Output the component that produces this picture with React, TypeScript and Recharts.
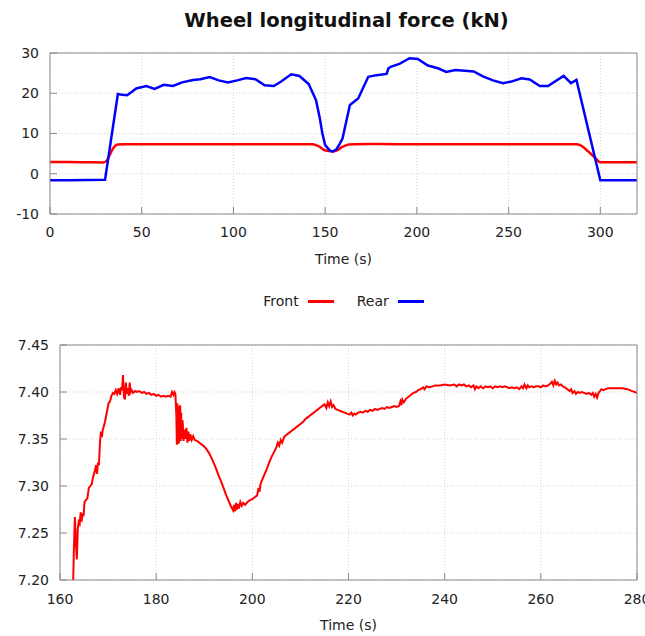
import React from 'react';
import { LineChart, Line, XAxis, YAxis, CartesianGrid, Legend } from 'recharts';

const TITLE = 'Wheel longitudinal force (kN)';
const X_LABEL = 'Time (s)';

const topTicksX = [0, 50, 100, 150, 200, 250, 300];
const topTicksY = [-10, 0, 10, 20, 30];
const zoomTicksX = [160, 180, 200, 220, 240, 260, 280];
const zoomTicksY = [7.2, 7.25, 7.3, 7.35, 7.4, 7.45];

// [time (s), force (kN)]
const frontOverview: [number, number][] = [
  [0, 2.9], [10, 2.9], [20, 2.85], [29, 2.8], [31, 3.3], [32.5, 4.6], [34, 6.0], [35.5, 6.9],
  [37, 7.25], [40, 7.35], [60, 7.35], [100, 7.35], [140, 7.35], [143, 7.3], [145, 7.1],
  [147, 6.7], [149, 6.0], [151, 5.7], [153, 5.6], [155, 5.6], [157, 5.9], [159, 6.6],
  [161, 7.0], [163, 7.25], [166, 7.35], [180, 7.38], [200, 7.3], [250, 7.35], [287, 7.35],
  [289, 7.1], [291, 6.5], [293, 5.7], [295, 4.9], [297, 4.0], [299, 3.1], [300, 2.85],
  [310, 2.85], [320, 2.85],
];

const rearOverview: [number, number][] = [
  [0, -1.6], [10, -1.6], [20, -1.55], [30, -1.5], [37, 19.8], [39.5, 19.6], [42, 19.5],
  [44.5, 20.3], [47, 21.2], [52.5, 21.8], [57, 21.1], [62, 22.1], [67, 21.8], [72, 22.7],
  [78, 23.3], [82, 23.5], [87, 24], [92, 23.2], [97, 22.7], [102, 23.2], [107, 23.8],
  [112, 23.5], [117, 22], [122, 21.8], [126, 22.9], [131.5, 24.7], [136, 24.3], [141, 22.3],
  [145, 18.3], [147, 14], [148.5, 10], [150, 7.1], [152.5, 5.8], [154, 5.5], [156, 6],
  [158, 7.5], [159.5, 8.8], [161.5, 13], [163.5, 17.1], [168, 18.7], [173.5, 24.1],
  [178, 24.5], [183.5, 24.8], [184.5, 26.2], [186, 26.6], [190.5, 27.3], [196, 28.7],
  [200.5, 28.5], [206, 26.9], [211.5, 26.2], [216, 25.3], [221, 25.8], [231, 25.4],
  [236, 24.2], [241.5, 23.2], [247, 22.5], [251.5, 22.9], [257, 23.7], [261.5, 23.4],
  [267, 21.8], [271.5, 21.8], [280, 24.3], [284, 22.5], [287, 23.3], [300, -1.6],
  [310, -1.6], [320, -1.6],
];

const frontZoom: [number, number][] = [
  [162.7, 7.19], [162.9, 7.235], [163.1, 7.267], [163.3, 7.24], [163.5, 7.222], [163.7, 7.255],
  [163.9, 7.262], [164.1, 7.26], [164.3, 7.272], [164.5, 7.262], [164.7, 7.271], [164.9, 7.268],
  [165.1, 7.283], [165.4, 7.285], [165.7, 7.287], [166.0, 7.298], [166.3, 7.3], [166.6, 7.302],
  [166.9, 7.31], [167.2, 7.315], [167.5, 7.322], [167.7, 7.313], [167.9, 7.325], [168.1, 7.322],
  [168.3, 7.345], [168.5, 7.358], [168.7, 7.352], [168.9, 7.36], [169.2, 7.365], [169.5, 7.372],
  [169.8, 7.38], [170.1, 7.388], [170.4, 7.39], [170.7, 7.396], [171.0, 7.399], [171.3, 7.398],
  [171.6, 7.402], [171.9, 7.398], [172.2, 7.404], [172.5, 7.397], [172.7, 7.405], [172.9, 7.402],
  [173.1, 7.418], [173.3, 7.395], [173.5, 7.392], [173.7, 7.41], [173.9, 7.398], [174.1, 7.404],
  [174.3, 7.396], [174.5, 7.41], [174.7, 7.4], [174.9, 7.402], [175.2, 7.399], [175.6, 7.401],
  [176.0, 7.4], [176.5, 7.401], [177.0, 7.399], [177.5, 7.4], [178.0, 7.398], [178.5, 7.399],
  [179.0, 7.397], [179.5, 7.398], [180.0, 7.396], [180.5, 7.397], [181.0, 7.395], [181.5, 7.396],
  [182.0, 7.395], [182.5, 7.396], [183.0, 7.395], [183.3, 7.4], [183.6, 7.397], [183.8, 7.4],
  [184.0, 7.398], [184.2, 7.375], [184.3, 7.344], [184.4, 7.388], [184.5, 7.35], [184.6, 7.385],
  [184.7, 7.345], [184.8, 7.38], [184.9, 7.352], [185.0, 7.386], [185.1, 7.348], [185.2, 7.378],
  [185.3, 7.35], [185.5, 7.37], [185.7, 7.348], [185.9, 7.36], [186.1, 7.35], [186.3, 7.362],
  [186.5, 7.346], [186.7, 7.358], [186.9, 7.348], [187.1, 7.355], [187.4, 7.349], [187.7, 7.353],
  [188.0, 7.349], [188.5, 7.348], [189.0, 7.346], [189.5, 7.344], [190.0, 7.342], [190.5, 7.339],
  [191.0, 7.335], [191.5, 7.33], [192.0, 7.324], [192.5, 7.318], [193.0, 7.311], [193.5, 7.305],
  [194.0, 7.298], [194.5, 7.291], [195.0, 7.285], [195.5, 7.279], [196.0, 7.274], [196.2, 7.28],
  [196.4, 7.273], [196.6, 7.282], [196.8, 7.275], [197.0, 7.281], [197.2, 7.276], [197.5, 7.283],
  [197.8, 7.279], [198.1, 7.282], [198.5, 7.28], [199.0, 7.283], [199.5, 7.285], [200.0, 7.286],
  [200.5, 7.288], [201.0, 7.29], [201.3, 7.298], [201.5, 7.294], [201.7, 7.302], [202.0, 7.306],
  [202.5, 7.312], [203.0, 7.318], [203.5, 7.325], [204.0, 7.331], [204.5, 7.336], [205.0, 7.341],
  [205.3, 7.346], [205.6, 7.343], [205.9, 7.349], [206.2, 7.346], [206.6, 7.352], [207.0, 7.354],
  [207.5, 7.356], [208.0, 7.358], [208.5, 7.36], [209.0, 7.362], [209.5, 7.364], [210.0, 7.366],
  [210.5, 7.368], [211.0, 7.371], [211.5, 7.373], [212.0, 7.375], [212.5, 7.377], [213.0, 7.379],
  [213.5, 7.381], [214.0, 7.383], [214.5, 7.385], [215.0, 7.387], [215.4, 7.383], [215.7, 7.389],
  [216.0, 7.385], [216.3, 7.39], [216.6, 7.384], [216.9, 7.386], [217.3, 7.382], [217.7, 7.381],
  [218.2, 7.38], [218.7, 7.379], [219.2, 7.378], [219.7, 7.377], [220.2, 7.376], [220.6, 7.378],
  [220.9, 7.375], [221.2, 7.377], [221.5, 7.376], [222.0, 7.378], [222.5, 7.379], [223.0, 7.378],
  [223.5, 7.38], [224.0, 7.379], [224.5, 7.381], [225.0, 7.38], [225.5, 7.382], [226.0, 7.381],
  [226.5, 7.382], [227.0, 7.383], [227.5, 7.382], [228.0, 7.384], [228.5, 7.383], [229.0, 7.384],
  [229.5, 7.385], [230.0, 7.384], [230.5, 7.385], [230.8, 7.39], [231.0, 7.386], [231.2, 7.392],
  [231.5, 7.389], [232.0, 7.393], [232.5, 7.395], [233.0, 7.397], [233.5, 7.399], [234.0, 7.4],
  [234.5, 7.402], [235.0, 7.403], [235.5, 7.405], [235.8, 7.403], [236.2, 7.406], [236.8, 7.405],
  [237.5, 7.406], [238.0, 7.407], [239.0, 7.407], [240.0, 7.408], [241.0, 7.407], [242.0, 7.408],
  [242.5, 7.406], [243.0, 7.408], [243.5, 7.407], [244.0, 7.408], [244.5, 7.406], [245.0, 7.407],
  [245.5, 7.405], [246.0, 7.407], [246.3, 7.403], [246.6, 7.406], [247.0, 7.404], [247.5, 7.406],
  [248.0, 7.404], [248.5, 7.406], [249.0, 7.405], [249.5, 7.406], [250.0, 7.404], [250.5, 7.406],
  [251.0, 7.405], [251.5, 7.406], [252.0, 7.405], [252.5, 7.406], [253.0, 7.405], [253.5, 7.404],
  [254.0, 7.405], [254.5, 7.404], [255.0, 7.405], [255.5, 7.403], [256.0, 7.406], [256.3, 7.404],
  [256.6, 7.408], [257.0, 7.404], [257.3, 7.407], [257.6, 7.405], [258.0, 7.406], [258.5, 7.405],
  [259.0, 7.406], [259.5, 7.406], [260.0, 7.405], [260.5, 7.407], [261.0, 7.406], [261.5, 7.407],
  [262.0, 7.409], [262.3, 7.411], [262.6, 7.407], [262.9, 7.412], [263.2, 7.408], [263.5, 7.41],
  [263.8, 7.407], [264.2, 7.408], [264.6, 7.406], [265.0, 7.405], [265.5, 7.403], [266.0, 7.401],
  [266.3, 7.403], [266.6, 7.399], [267.0, 7.401], [267.3, 7.398], [267.7, 7.4], [268.0, 7.399],
  [268.5, 7.4], [269.0, 7.399], [269.5, 7.398], [270.0, 7.399], [270.5, 7.397], [270.8, 7.399],
  [271.1, 7.395], [271.4, 7.398], [271.7, 7.394], [272.0, 7.399], [272.3, 7.401], [272.6, 7.403],
  [273.0, 7.402], [273.5, 7.403], [274.0, 7.404], [275.0, 7.404], [276.0, 7.404], [277.0, 7.404],
  [278.0, 7.403], [279.0, 7.401], [280.0, 7.399],
];

const toRows = (arr: [number, number][]) => arr.map(([t, v]) => ({ t, v }));

const FONT = 'DejaVu Sans';
const AXIS_COLOR = '#8a8a8a';
const GRID_COLOR = '#d4d4d4';
const TEXT_COLOR = '#222';
const tickStyle = { fill: TEXT_COLOR, fontSize: 14, fontFamily: FONT };

const LegendContent = (props: any) => {
  const payload = props.payload || [];
  return (
    <div
      style={{
        display: 'flex',
        justifyContent: 'center',
        alignItems: 'center',
        height: 20,
        fontFamily: FONT,
        fontSize: 14,
        color: TEXT_COLOR,
      }}
    >
      {payload.map((p: any, i: number) => (
        <div key={i} style={{ display: 'flex', alignItems: 'center', marginLeft: i === 0 ? 0 : 23 }}>
          <span>{p.value}</span>
          <span style={{ display: 'inline-block', width: 26, height: 3, background: p.color, marginLeft: 9 }} />
        </div>
      ))}
    </div>
  );
};

export default function App() {
  return (
    <div style={{ position: 'absolute', left: 0, top: 0, width: 645, height: 636, background: '#fff', overflow: 'hidden' }}>
      <div
        style={{
          position: 'absolute',
          left: 50,
          top: 10,
          width: 593,
          textAlign: 'center',
          fontFamily: FONT,
          fontWeight: 'bold',
          fontSize: 19.5,
          lineHeight: '22px',
          color: '#111',
        }}
      >
        {TITLE}
      </div>

      <div style={{ position: 'absolute', left: 0, top: 0 }}>
        <LineChart width={645} height={320} margin={{ top: 52, right: 7, left: 0, bottom: 9 }}>
          <CartesianGrid stroke={GRID_COLOR} strokeDasharray="1 2" />
          <XAxis
            dataKey="t"
            type="number"
            domain={[0, 320]}
            ticks={topTicksX}
            interval={0}
            allowDataOverflow
            height={77}
            stroke={AXIS_COLOR}
            tickSize={-7}
            tickMargin={20}
            tick={tickStyle}
            label={{ value: X_LABEL, position: 'insideTop', offset: 40, fill: TEXT_COLOR, fontSize: 14, fontFamily: FONT }}
          />
          <XAxis
            xAxisId="top"
            orientation="top"
            dataKey="t"
            type="number"
            domain={[0, 320]}
            ticks={topTicksX}
            interval={0}
            height={1}
            stroke={AXIS_COLOR}
            tickSize={-7}
            tick={false}
          />
          <YAxis
            type="number"
            domain={[-10, 30]}
            ticks={topTicksY}
            interval={0}
            allowDataOverflow
            width={50}
            stroke={AXIS_COLOR}
            tickSize={-7}
            tickMargin={18}
            tick={tickStyle}
          />
          <YAxis
            yAxisId="right"
            orientation="right"
            type="number"
            domain={[-10, 30]}
            ticks={topTicksY}
            interval={0}
            width={1}
            stroke={AXIS_COLOR}
            tickSize={-7}
            tick={false}
          />
          <Legend
            verticalAlign="bottom"
            height={20}
            wrapperStyle={{ left: 50, width: 587, height: 20 }}
            content={LegendContent}
          />
          <Line
            data={toRows(frontOverview)}
            dataKey="v"
            name="Front"
            type="monotone"
            stroke="#ff0000"
            strokeWidth={2.5}
            dot={false}
            isAnimationActive={false}
          />
          <Line
            data={toRows(rearOverview)}
            dataKey="v"
            name="Rear"
            type="linear"
            stroke="#0000ff"
            strokeWidth={2.5}
            dot={false}
            isAnimationActive={false}
          />
        </LineChart>
      </div>

      <div style={{ position: 'absolute', left: 0, top: 330 }}>
        <LineChart width={645} height={306} margin={{ top: 14, right: 7, left: 0, bottom: 0 }}>
          <CartesianGrid stroke={GRID_COLOR} strokeDasharray="1 2" />
          <XAxis
            dataKey="t"
            type="number"
            domain={[160, 280]}
            ticks={zoomTicksX}
            interval={0}
            allowDataOverflow
            height={56}
            stroke={AXIS_COLOR}
            tickSize={-7}
            tickMargin={21}
            tick={tickStyle}
            label={{ value: X_LABEL, position: 'insideTop', offset: 40, fill: TEXT_COLOR, fontSize: 14, fontFamily: FONT }}
          />
          <XAxis
            xAxisId="top"
            orientation="top"
            dataKey="t"
            type="number"
            domain={[160, 280]}
            ticks={zoomTicksX}
            interval={0}
            height={1}
            stroke={AXIS_COLOR}
            tickSize={-7}
            tick={false}
          />
          <YAxis
            type="number"
            domain={[7.2, 7.45]}
            ticks={zoomTicksY}
            interval={0}
            allowDataOverflow
            width={60}
            stroke={AXIS_COLOR}
            tickSize={-7}
            tickMargin={18}
            tick={tickStyle}
            tickFormatter={(v: number) => v.toFixed(2)}
          />
          <YAxis
            yAxisId="right"
            orientation="right"
            type="number"
            domain={[7.2, 7.45]}
            ticks={zoomTicksY}
            interval={0}
            width={1}
            stroke={AXIS_COLOR}
            tickSize={-7}
            tick={false}
          />
          <Line
            data={toRows(frontZoom)}
            dataKey="v"
            name="Front"
            type="linear"
            stroke="#ff0000"
            strokeWidth={2}
            dot={false}
            isAnimationActive={false}
          />
        </LineChart>
      </div>
    </div>
  );
}
